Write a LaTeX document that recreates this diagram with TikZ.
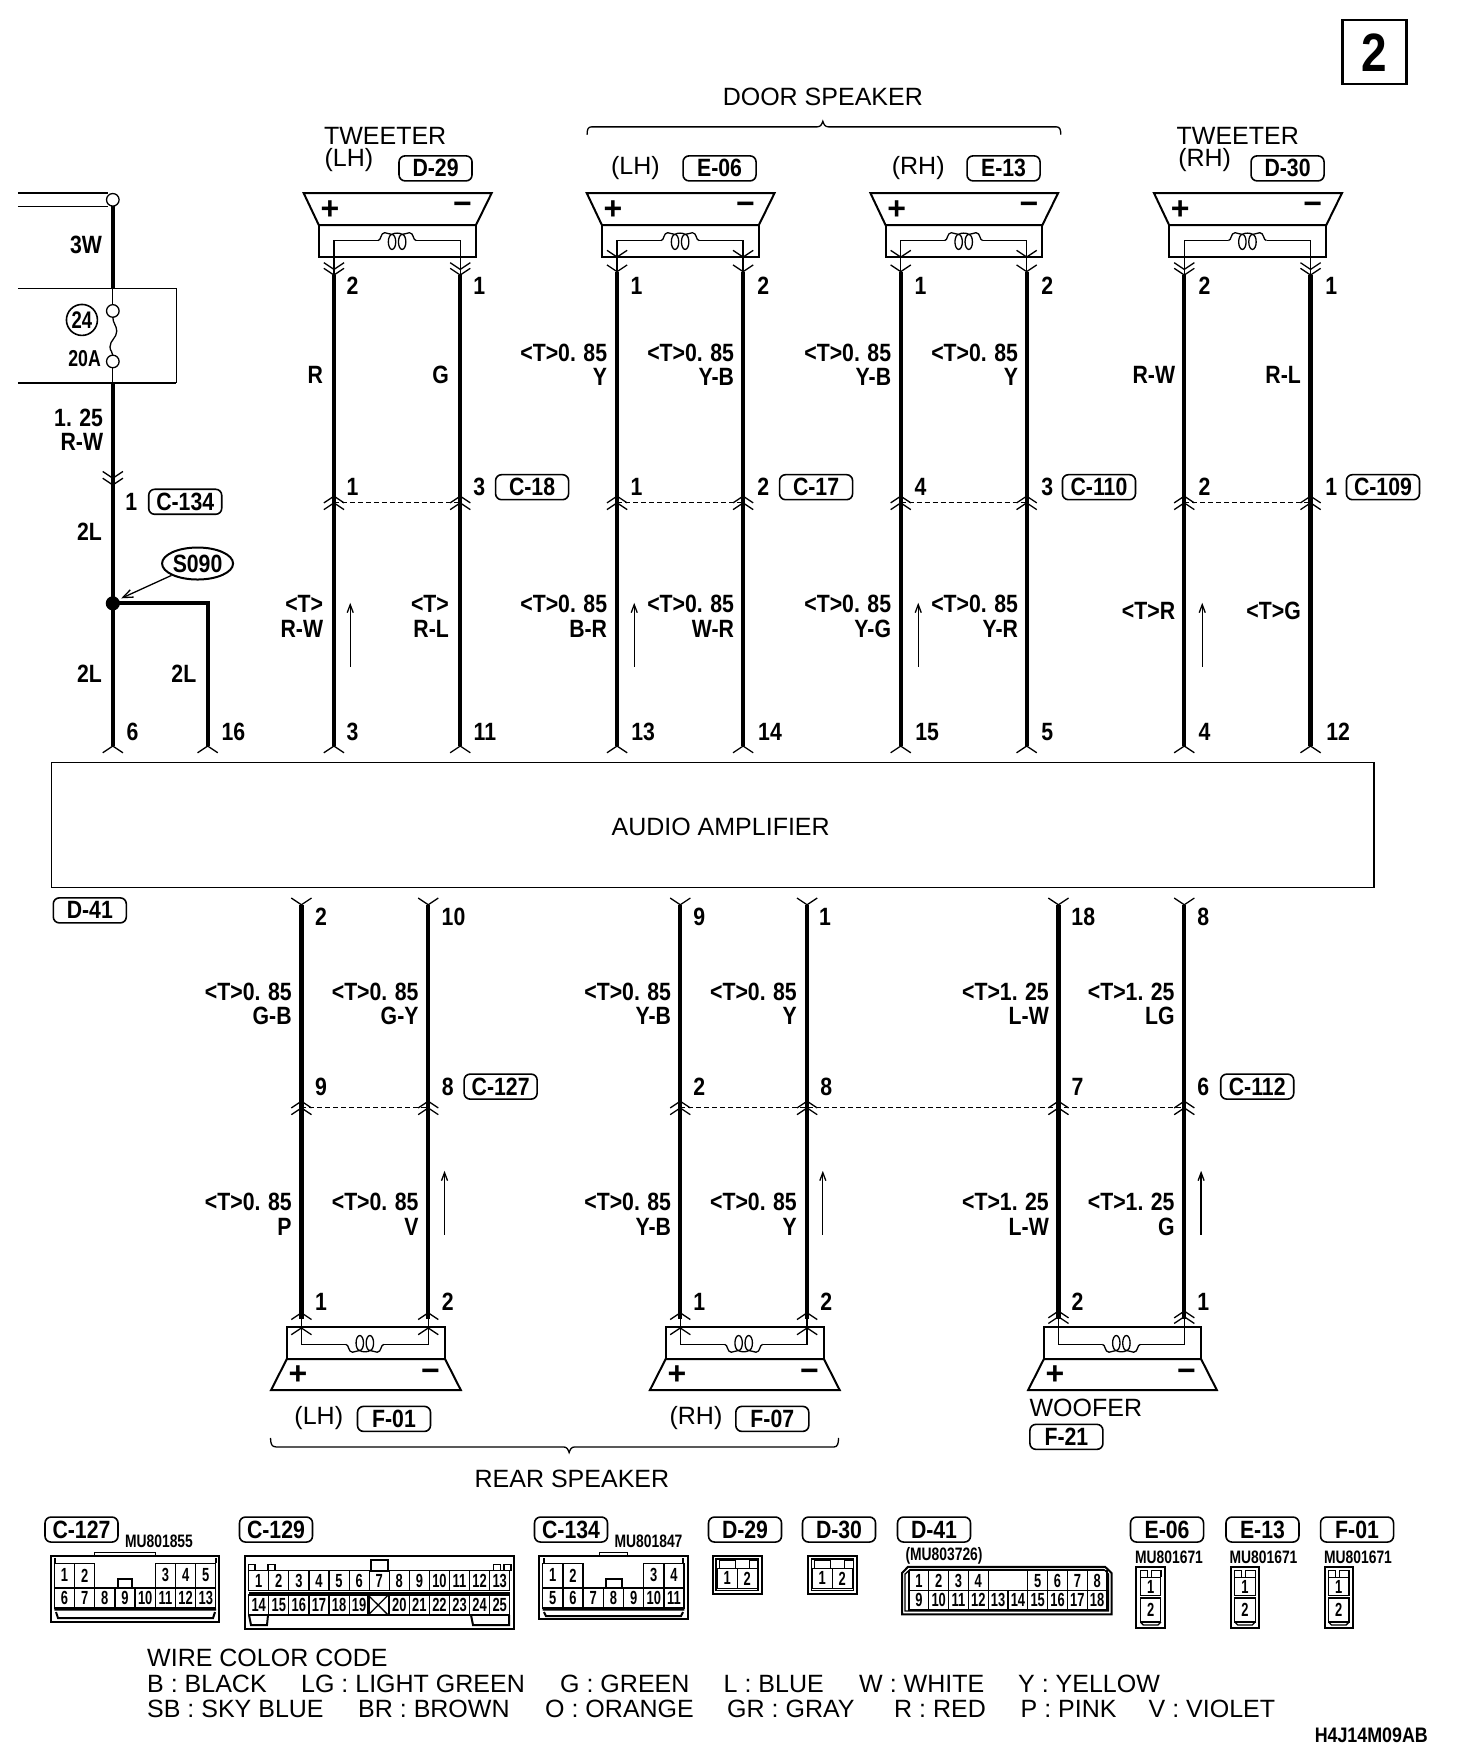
\documentclass[tikz,border=0pt]{standalone}
\usepackage{fontspec}
\setmainfont{Liberation Sans}
\newfontfamily\cond[FakeStretch=0.85]{Liberation Sans}
\newfontfamily\condc[FakeStretch=0.68]{Liberation Sans}
\newfontfamily\condm[FakeStretch=0.77]{Liberation Sans}
\usetikzlibrary{shapes.geometric,arrows.meta}
\newcounter{nn}
\newcommand{\nn}{\stepcounter{nn}\node (N\arabic{nn})}
\newcommand{\lT}{<T>0.\kern.3em85}
\newcommand{\lU}{<T>1.\kern.3em25}
\tikzset{
  wire/.style={line width=4.2pt},
  thinl/.style={line width=1.3pt},
  medl/.style={line width=2pt},
  dashl/.style={line width=1pt,dash pattern=on 5pt off 3pt},
  plain/.style={font=\fontsize{25}{25}\selectfont,inner sep=0pt},
  lab/.style={font=\cond\bfseries\fontsize{25}{25}\selectfont,inner sep=0pt},
  labr/.style={lab,anchor=east},
  numl/.style={lab},
  pm/.style={font=\bfseries\fontsize{32}{32}\selectfont,inner sep=0pt},
  tagn/.style={lab,draw,line width=1.6pt,rounded corners=6pt,minimum width=73pt,minimum height=25pt},
  mu/.style={font=\condm\bfseries\fontsize{18}{18}\selectfont,inner sep=0pt},
  cell/.style={draw,line width=1.2pt,font=\condc\bfseries\fontsize{19}{19}\selectfont,inner sep=0pt,minimum width=20.1pt},
  uparr/.style={line width=1.3pt,-{Straight Barb[length=8pt,width=6pt]}},
}
\newcommand{\wire}[4]{\coordinate (#1-t) at (#2,#3);\coordinate (#1-b) at (#2,#4);\draw[wire] (#1-t) -- (#1-b);}
\newcommand{\chd}[2]{\draw[thinl] (#1-9,#2-6) -- (#1,#2) -- (#1+9,#2-6);}
\newcommand{\chu}[2]{\draw[thinl] (#1-9,#2+6) -- (#1,#2) -- (#1+9,#2+6);}
% coil centre x, line y, direction
\newcommand{\coil}[3]{%
  \draw[thinl] (#1-17,#2) .. controls (#1-14,#2) and (#1-15,#2-#3*7) .. (#1-11,#2-#3*7) .. controls (#1-8,#2-#3*7) and (#1-6,#2-#3*5) .. (#1-4.5,#2-#3*5.5)
     .. controls (#1-3,#2-#3*7) and (#1+3,#2-#3*7) .. (#1+4.5,#2-#3*5.5)
     .. controls (#1+6,#2-#3*5) and (#1+8,#2-#3*7) .. (#1+11,#2-#3*7) .. controls (#1+15,#2-#3*7) and (#1+14,#2) .. (#1+17,#2);
  \draw[thinl] (#1-4.5,#2+#3*1.2) ellipse [x radius=3.3,y radius=6.7];
  \draw[thinl] (#1+4.5,#2+#3*1.2) ellipse [x radius=3.3,y radius=6.7];}
% top speaker: left wire x, right wire x
\newcommand{\spkT}[2]{%
  \pgfmathsetmacro{\cc}{(#1+#2)/2}
  \draw[medl] (#1-27,172) -- (#2+28,172) -- (#2+14,200.5) -- (#1-13.5,200.5) -- cycle;
  \draw[medl] (#1-13.5,200.5) rectangle (#2+14,228.7);
  \draw[thinl] (#1,245) -- (#1,214.3) -- (\cc-17,214.3) (\cc+17,214.3) -- (#2,214.3) -- (#2,245);
  \coil{\cc}{214.3}{1}
  \nn[pm] at (#1-3.6,187) {+};
  \nn[pm] at (#2+2,186) {−};}
% bottom speaker
\newcommand{\spkB}[2]{%
  \pgfmathsetmacro{\cc}{(#1+#2)/2}
  \draw[medl] (#1-27,1238.3) -- (#2+29,1238.3) -- (#2+15,1210.7) -- (#1-13,1210.7) -- cycle;
  \draw[medl] (#1-13,1182.5) rectangle (#2+15,1210.7);
  \draw[thinl] (#1,1169) -- (#1,1197.6) -- (\cc-17,1197.6) (\cc+17,1197.6) -- (#2,1197.6) -- (#2,1169);
  \coil{\cc}{1197.6}{-1}
  \nn[pm] at (#1-3,1225) {+};
  \nn[pm] at (#2+2,1225) {−};}
\begin{document}
\begin{tikzpicture}[x=1.1225pt,y=-1.1225pt]
\useasboundingbox (0,0) rectangle (1311.4,1566.1);
\fill[white] (0,0) rectangle (1311.4,1566.1);
% page number box
\nn[draw,line width=2.4pt,minimum width=64pt,minimum height=64pt,inner sep=0pt,font=\cond\bfseries\fontsize{54}{54}\selectfont] at (1224.5,46.5) {2};
% header labels
\nn[plain] at (733,86) {DOOR SPEAKER};
\draw[thinl] (523,120) .. controls (523,115) and (524,113) .. (527,113) -- (728,113) .. controls (731,113) and (732,111) .. (733,108) .. controls (734,111) and (735,113) .. (738,113) -- (941,113) .. controls (944,113) and (945,115) .. (945,120);
\nn[plain,anchor=west] at (288.5,121) {TWEETER};
\nn[plain,anchor=west] at (289,143) {(LH)};
\nn[tagn] at (388,150) {D-29};
\nn[plain] at (566,150) {(LH)};
\nn[tagn] at (641,150) {E-06};
\nn[plain] at (818,150) {(RH)};
\nn[tagn] at (894,150) {E-13};
\nn[plain,anchor=west] at (1048,121) {TWEETER};
\nn[plain,anchor=west] at (1049.5,143) {(RH)};
\nn[tagn] at (1147,150) {D-30};
% left battery feed
\draw[medl] (16,172) -- (96,172);
\draw[thinl] (16,184) -- (96,184);
\coordinate (c0) at (100.5,178);
\coordinate (c1) at (100.5,277);
\coordinate (c2) at (100.5,322);
\draw[thinl] (c0) circle [radius=5.6];
\draw[thinl] (c1) circle [radius=5.6];
\draw[thinl] (c2) circle [radius=5.6];
\draw[wire] (100.5,183.5) -- (100.5,257);
\draw[thinl] (100.5,257) -- (100.5,271.5);
\draw[thinl] (100.5,282.5) .. controls (100.5,288) and (104,290) .. (104,295) .. controls (104,301) and (98,303) .. (98,309) .. controls (98,313) and (100.5,313) .. (100.5,316.5);
\draw[thinl] (100.5,327.5) -- (100.5,341);
\draw[thinl] (16,257) -- (157,257) -- (157,341);
\draw[medl] (16,341) -- (157,341);
\nn[draw,circle,line width=1.6pt,minimum size=31pt,inner sep=0pt,font=\condm\bfseries\fontsize{24}{24}\selectfont] at (73,285) {24};
\nn[labr] at (91,218) {3W};
\nn[labr,font=\condm\bfseries\fontsize{23}{23}\selectfont] at (90,319) {20A};
\nn[labr] at (92,372) {1.\kern.3em25};
\nn[labr] at (92,394) {R-W};
\wire{a}{100.5}{341}{664.6}
\chd{100.5}{426}\chd{100.5}{432}\chu{100.5}{664.6}
\nn[numl] at (117,447) {1};
\nn[tagn] at (165,447) {C-134};
\nn[labr] at (91,474) {2L};
\coordinate (dot) at (100.5,537.5);
\coordinate (b16) at (185,537.5);
\coordinate (e16) at (185,664.6);
\draw[wire,line join=miter] (dot) -- (b16) -- (e16);
\fill (dot) circle [radius=6.3];
\chu{185}{664.6}
\node (s090) [lab,draw,ellipse,line width=2pt,minimum width=71pt,minimum height=32pt] at (176,502) {S090};
\draw[thinl,-{Straight Barb[length=10pt,width=8pt]}] (s090) -- (108,533);
\nn[labr] at (91,600) {2L};
\nn[labr] at (175,600) {2L};
\nn[numl] at (118,652) {6};
\nn[numl] at (208,652) {16};
% upper wires
\spkT{297.5}{410}\spkT{549.7}{662}\spkT{802.4}{914.6}\spkT{1055}{1167.5}
\wire{w1}{297.5}{245}{664.6}
\wire{w2}{410}{245}{664.6}
\wire{w3}{549.7}{242}{664.6}
\wire{w4}{662}{242}{664.6}
\wire{w5}{802.4}{242}{664.6}
\wire{w6}{914.6}{242}{664.6}
\wire{w7}{1055}{245}{664.6}
\wire{w8}{1167.5}{245}{664.6}
\foreach \x in {297.5,410,1055,1167.5} {\chd{\x}{240}\chd{\x}{245}}
\foreach \x in {549.7,662,802.4,914.6} {\chd{\x}{229}\chd{\x}{242}}
\foreach \x in {297.5,410,549.7,662,802.4,914.6,1055,1167.5} {\chu{\x}{442}\chu{\x}{448}\chu{\x}{664.6}}
\foreach \a/\b [count=\i] in {297.5/410,549.7/662,802.4/914.6,1055/1167.5} {\coordinate (da\i) at (\a,447.5);\coordinate (db\i) at (\b,447.5);\draw[dashl] (da\i) -- (db\i);}
\foreach \x/\t in {314/2,427/1,567/1,680/2,820/1,933/2,1073/2,1186/1} {\nn[numl] at (\x,255) {\t};}
\foreach \x/\t in {314/1,427/3,567/1,680/2,820/4,933/3,1073/2,1186/1} {\nn[numl] at (\x,434) {\t};}
\foreach \x/\t in {314/3,432/11,573/13,686/14,826/15,933/5,1073/4,1192/12} {\nn[numl] at (\x,652) {\t};}
\nn[tagn] at (474,434) {C-18};
\nn[tagn] at (727,434) {C-17};
\nn[tagn] at (979,434) {C-110};
\nn[tagn] at (1232,434) {C-109};
\nn[labr] at (288,334) {R};
\nn[labr] at (400,334) {G};
\foreach \x/\t in {541/Y,654/Y-B,794/Y-B,907/Y} {\nn[labr] at (\x,314) {\lT};\nn[labr] at (\x,336) {\t};}
\nn[labr] at (1047,334) {R-W};
\nn[labr] at (1159,334) {R-L};
\nn[labr] at (288,538) {<T>};
\nn[labr] at (288,560) {R-W};
\nn[labr] at (400,538) {<T>};
\nn[labr] at (400,560) {R-L};
\foreach \x/\t in {541/B-R,654/W-R,794/Y-G,907/Y-R} {\nn[labr] at (\x,538) {\lT};\nn[labr] at (\x,560) {\t};}
\nn[labr] at (1047,544) {<T>R};
\nn[labr] at (1159,544) {<T>G};
\foreach \x in {312,565,818,1071} {\coordinate (ua\x) at (\x,594);\coordinate (ub\x) at (\x,537);\draw[uparr] (ua\x) -- (ub\x);}
% amplifier
\node (amp) [draw,line width=1.6pt,minimum width=1322.5pt,minimum height=125pt,inner sep=0pt] at (634.8,734.8) {};
\nn[plain] at (642,737) {AUDIO AMPLIFIER};
\nn[tagn] at (80,811) {D-41};
% lower wires
\wire{v1}{268.5}{806}{1175}
\wire{v2}{381.5}{806}{1175}
\wire{v3}{606}{806}{1175}
\wire{v4}{719}{806}{1175}
\wire{v5}{942.9}{806}{1175}
\wire{v6}{1055}{806}{1175}
\foreach \x in {268.5,381.5,606,719,942.9,1055} {\chd{\x}{806}\chu{\x}{981}\chu{\x}{987}}
\foreach \x/\t in {286/2,404/10,623/9,735/1,965/18,1072/8} {\nn[numl] at (\x,817) {\t};}
\foreach \x/\t in {286/9,399/8,623/2,736/8,960/7,1072/6} {\nn[numl] at (\x,968) {\t};}
\foreach \x/\t in {286/1,399/2,623/1,736/2,960/2,1072/1} {\nn[numl] at (\x,1160) {\t};}
\nn[tagn] at (446,968) {C-127};
\nn[tagn] at (1120,968) {C-112};
\coordinate (dd1) at (268.5,987);\coordinate (dd2) at (381.5,987);
\coordinate (dd3) at (606,987);\coordinate (dd4) at (1055,987);
\draw[dashl] (dd1) -- (dd2);
\draw[dashl] (dd3) -- (dd4);
\foreach \x/\a in {260/G-B,373/G-Y,598/Y-B,710/Y} {\nn[labr] at (\x,884) {\lT};\nn[labr] at (\x,905) {\a};}
\foreach \x/\a in {934.5/L-W,1046.5/LG} {\nn[labr] at (\x,884) {\lU};\nn[labr] at (\x,905) {\a};}
\foreach \x/\a in {260/P,373/V,598/Y-B,710/Y} {\nn[labr] at (\x,1071) {\lT};\nn[labr] at (\x,1093) {\a};}
\foreach \x/\a in {934.5/L-W,1046.5/G} {\nn[labr] at (\x,1071) {\lU};\nn[labr] at (\x,1093) {\a};}
\foreach \x in {396,733,1070} {\coordinate (uc\x) at (\x,1100);\coordinate (ud\x) at (\x,1043);\draw[uparr] (uc\x) -- (ud\x);}
\spkB{268.5}{381.5}\spkB{606}{719}\spkB{942.9}{1055}
\foreach \x in {268.5,381.5,606,719} {\chu{\x}{1169.5}\chu{\x}{1183}}
\foreach \x in {942.9,1055} {\chu{\x}{1168}\chu{\x}{1173}}
\nn[plain] at (284,1263) {(LH)};
\nn[tagn] at (351,1264) {F-01};
\nn[plain] at (620,1263) {(RH)};
\nn[tagn] at (688,1264) {F-07};
\nn[plain,anchor=west] at (917,1254) {WOOFER};
\nn[tagn] at (950,1280) {F-21};
\draw[thinl] (241,1281) .. controls (241,1286) and (242,1289) .. (246,1289) -- (502,1289) .. controls (505,1289) and (506,1291) .. (507,1294) .. controls (508,1291) and (509,1289) .. (512,1289) -- (743,1289) .. controls (746,1289) and (747,1286) .. (747,1281);
\nn[plain] at (509.5,1317.5) {REAR SPEAKER};
% connector pictograms, in picture pixels
\begin{scope}[x=1pt,y=-1pt]
\foreach \x/\t in {81.5/C-127,276/C-129,571/C-134,745/D-29,839/D-30,934/D-41,1167/E-06,1262.4/E-13,1357/F-01} {\nn[tagn] at (\x,1529.5) {\t};}
\nn[mu] at (159,1541.5) {MU801855};
\nn[mu] at (648.5,1541.5) {MU801847};
\nn[mu] at (944,1556) {(MU803726)};
\foreach \x in {1169,1263.5,1358} {\nn[mu] at (\x,1557) {MU801671};}
% C-127
\draw[medl] (50.5,1555.7) rectangle (219.4,1622.3);
\draw[thinl] (94.4,1555.7) rectangle (155.7,1552.3);
\draw[medl] (54.3,1609.5) -- (216,1609.5) (56,1612) -- (58,1618) -- (213,1618) -- (215,1612);
\foreach \n/\c in {1/0,2/1,3/5,4/6,5/7} {\nn[cell,minimum height=24pt] at ({54.3+20.2*(\c+.5)},1575.3) {\n};}
\foreach \n/\c in {6/0,7/1,8/2,9/3,10/4,11/5,12/6,13/7} {\nn[cell,minimum height=20pt] at ({54.3+20.2*(\c+.5)},1598) {\n};}
\draw[thinl] (118,1588) rectangle (132,1579);
\draw[thinl] (55,1563) -- (55,1558) (216,1563) -- (216,1558);
% C-129
\draw[medl] (244.5,1555.7) rectangle (514.4,1629.3);
\foreach \a/\b in {248.7/255,268/275,493.5/500.7,504/511} {\draw[thinl] (\a,1570.7) rectangle (\b,1564.5);}
\draw[medl] (370.5,1570.7) rectangle (388,1559.5);
\draw[medl] (248.7,1592.8) -- (509.7,1592.8);
\foreach \n [count=\c from 0] in {1,...,13} {\nn[cell,minimum height=20pt] at ({248.7+20.08*(\c+.5)},1580.7) {\n};}
\foreach \n/\c in {14/0,15/1,16/2,17/3,18/4,19/5,20/7,21/8,22/9,23/10,24/11,25/12} {\nn[cell,minimum height=20pt] at ({248.7+20.08*(\c+.5)},1605) {\n};}
\draw[thinl] (368.1,1595) rectangle (388.2,1615);
\draw[thinl] (368.1,1595) -- (388.2,1615) (368.1,1615) -- (388.2,1595);
\draw[medl] (249,1615) -- (251,1625) -- (267,1625) -- (268,1615);
\draw[medl] (471,1615) -- (473,1625) -- (509,1625) -- (509,1615);
% C-134
\draw[medl] (538.5,1555.7) rectangle (688,1619);
\draw[thinl] (599.3,1555.7) rectangle (627.7,1552.3);
\draw[medl] (542.7,1609.5) -- (684.3,1609.5) (544,1612) -- (546,1616) -- (681,1616) -- (683,1612);
\foreach \n/\c in {1/0,2/1,3/5,4/6} {\nn[cell,minimum height=24pt] at ({542.7+20.2*(\c+.5)},1575.3) {\n};}
\foreach \n [count=\c from 0] in {5,...,11} {\nn[cell,minimum height=20pt] at ({542.7+20.2*(\c+.5)},1598) {\n};}
\draw[medl] (605.5,1588) rectangle (622,1579);
\draw[thinl] (544,1563) -- (544,1558) (683,1563) -- (683,1558);
% D-29, D-30
\foreach \x in {712.6,807.7} {
  \draw[medl] (\x,1555.7) rectangle (\x+49,1594.3);
  \draw[thinl] (\x+3.5,1559) rectangle (\x+45.5,1590.5);
  \draw[thinl] (\x+7,1568) -- (\x+7,1560.5) -- (\x+23,1560.5) -- (\x+23,1568) (\x+37,1568) -- (\x+37,1560.5) -- (\x+45,1560.5);
  \nn[cell,minimum height=20pt,minimum width=20pt] at (\x+14.5,1578.3) {1};
  \nn[cell,minimum height=20pt,minimum width=20pt] at (\x+34.5,1578.3) {2};
}
% D-41
\draw[medl] (902,1614.3) -- (902,1573) -- (908,1566.7) -- (1105,1566.7) -- (1111.6,1573) -- (1111.6,1614.3) -- cycle;
\draw[thinl] (905,1611) -- (905,1574) -- (910,1569.5) -- (1104,1569.5) -- (1108.5,1574) -- (1108.5,1611) -- cycle;
\foreach \n/\c in {1/0,2/1,3/2,4/3,5/6,6/7,7/8,8/9} {\nn[cell,minimum height=19.5pt,minimum width=19.8pt] at ({909+19.8*(\c+.5)},1580.5) {\n};}
\draw[thinl] (988.2,1570.7) rectangle (1027.8,1590.2);
\foreach \n [count=\c from 0] in {9,...,18} {\nn[cell,minimum height=19.5pt,minimum width=19.8pt] at ({909+19.8*(\c+.5)},1600.2) {\n};}
% E-06, E-13, F-01
\foreach \x in {1136.4,1230.7,1324.5} {
  \draw[medl] (\x,1566.7) rectangle (\x+28.3,1628.3);
  \draw[thinl] (\x+4,1577) -- (\x+4,1570.5) -- (\x+11,1570.5) -- (\x+11,1577) (\x+15,1577) -- (\x+15,1570.5) -- (\x+24.5,1570.5) -- (\x+24.5,1577);
  \nn[cell,minimum height=18pt,minimum width=20.5pt] at (\x+14.2,1586.5) {1};
  \nn[cell,minimum height=24pt,minimum width=20.5pt] at (\x+14.2,1610) {2};
  \draw[thinl] (\x+4,1622) -- (\x+7,1625) -- (\x+21.5,1625) -- (\x+24.5,1622);
}
% wire colour code
\nn[plain,anchor=west] at (147,1658) {WIRE COLOR CODE};
\foreach \x/\t in {147/B : BLACK,301/LG : LIGHT GREEN,560/G : GREEN,723.5/L : BLUE,859/W : WHITE,1018/Y : YELLOW} {\nn[plain,anchor=west] at (\x,1684) {\t};}
\foreach \x/\t in {147/SB : SKY BLUE,358/BR : BROWN,545/O : ORANGE,727/GR : GRAY,894/R : RED,1020.5/P : PINK,1148.5/V : VIOLET} {\nn[plain,anchor=west] at (\x,1709.3) {\t};}
\nn[lab,font=\cond\bfseries\fontsize{21}{21}\selectfont,anchor=east] at (1428,1735) {H4J14M09AB};
\end{scope}
\end{tikzpicture}
\end{document}
